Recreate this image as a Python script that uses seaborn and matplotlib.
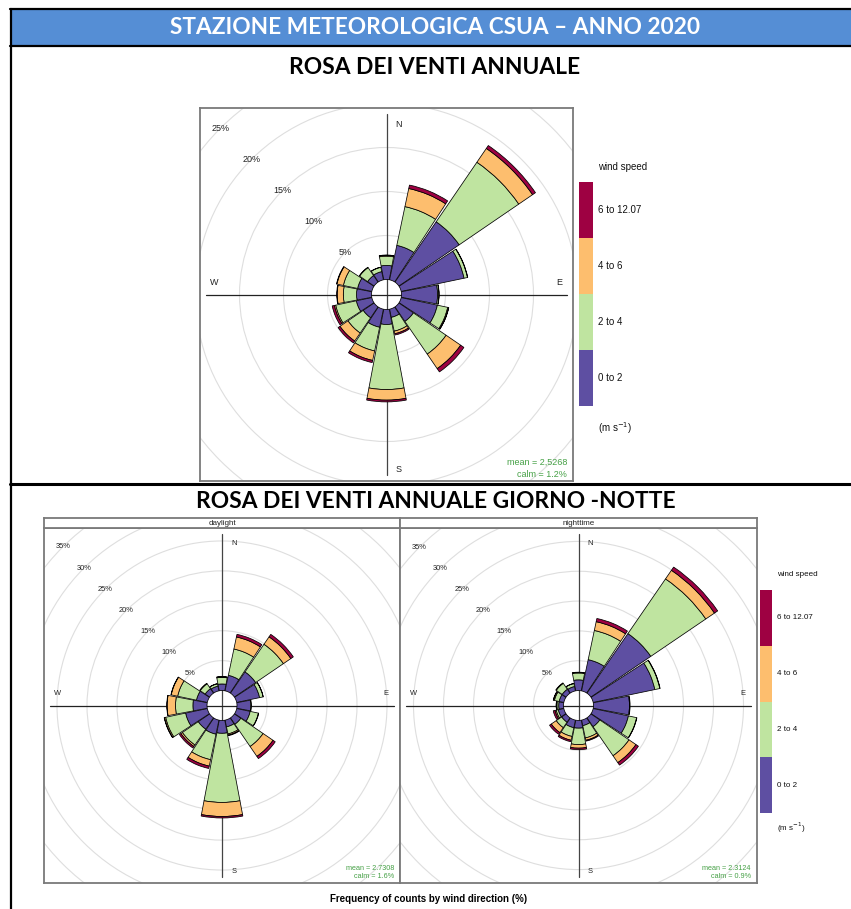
import numpy as np
import matplotlib
matplotlib.use("Agg")
import matplotlib.pyplot as plt
from matplotlib.patches import Wedge, Circle, Rectangle
import seaborn as sns

# wind directions (clockwise from N) and speed classes
directions = ["N", "NNE", "NE", "ENE", "E", "ESE", "SE", "SSE",
              "S", "SSW", "SW", "WSW", "W", "WNW", "NW", "NNW"]
dir_angles = np.arange(16) * 22.5
speed_labels = ["0 to 2", "2 to 4", "4 to 6", "6 to 12.07"]

# annual rose (% of counts per class)
ann_0_2 = [1.6, 4.0, 8.3, 7.3, 4.1, 4.2, 2.0, 0.95, 1.7, 2.1, 1.5, 1.8, 1.7, 1.65, 0.9, 0.95]
ann_2_4 = [1.05, 4.5, 8.2, 0.4, 0.15, 1.2, 4.5, 1.6, 7.4, 2.75, 2.1, 2.4, 1.5, 1.65, 1.1, 0.5]
ann_4_6 = [0.1, 2.1, 1.9, 0.03, 0.02, 0.1, 2.0, 0.3, 1.2, 1.1, 1.1, 0.15, 0.7, 0.75, 0.05, 0.02]
ann_6_12 = [0.03, 0.4, 0.4, 0.0, 0.0, 0.03, 0.45, 0.15, 0.2, 0.25, 0.25, 0.25, 0.05, 0.05, 0.0, 0.0]

# daylight
day_0_2 = [1.1, 2.65, 4.3, 3.9, 2.3, 2.3, 1.3, 1.15, 2.15, 2.4, 2.3, 3.7, 2.35, 1.85, 0.9, 0.8]
day_2_4 = [1.1, 4.5, 5.6, 0.6, 0.1, 1.4, 4.5, 1.2, 11.55, 4.35, 3.2, 3.4, 2.9, 3.2, 1.0, 0.4]
day_4_6 = [0.1, 2.05, 1.5, 0.03, 0.0, 0.05, 2.0, 0.2, 2.35, 1.1, 0.3, 0.2, 1.4, 1.1, 0.1, 0.03]
day_6_12 = [0.03, 0.45, 0.5, 0.0, 0.0, 0.0, 0.45, 0.1, 0.25, 0.4, 0.3, 0.05, 0.05, 0.05, 0.0, 0.0]

# nighttime
night_0_2 = [1.8, 5.35, 12.1, 10.5, 6.0, 6.0, 1.8, 0.95, 1.3, 1.3, 0.9, 0.95, 0.8, 0.8, 0.8, 0.75]
night_2_4 = [1.15, 5.0, 11.1, 0.85, 0.1, 1.4, 5.9, 2.1, 2.75, 1.5, 1.1, 0.35, 0.3, 0.8, 1.2, 0.5]
night_4_6 = [0.1, 1.5, 1.75, 0.05, 0.0, 0.05, 1.4, 0.4, 0.6, 0.65, 1.0, 0.2, 0.1, 0.15, 0.1, 0.03]
night_6_12 = [0.03, 0.55, 0.65, 0.0, 0.0, 0.0, 0.5, 0.15, 0.25, 0.25, 0.35, 0.3, 0.03, 0.05, 0.0, 0.0]

sns.set_theme(style="white")
plt.rcParams['font.family'] = ['Liberation Sans', 'DejaVu Sans']
colors = sns.color_palette(["#5e4fa2", "#bfe4a0", "#fdbe6e", "#9e0142"])
green_txt = "#45a045"

W, H = 851, 909
fig = plt.figure(figsize=(W / 100, H / 100), dpi=100)
bg = fig.add_axes([0, 0, 1, 1])
bg.set_xlim(0, W)
bg.set_ylim(H, 0)
bg.axis('off')


def px_axes(x0, y0, x1, y1):
    return fig.add_axes([x0 / W, 1 - y1 / H, (x1 - x0) / W, (y1 - y0) / H])


def rose(ax, bands, ppp, half, off_px, rings, mean_txt, calm_txt, fs, lab_fs):
    off = off_px / ppp
    lim = half / ppp
    ax.set_xlim(-lim, lim)
    ax.set_ylim(-lim, lim)
    ax.set_xticks([])
    ax.set_yticks([])
    for s in ax.spines.values():
        s.set_color("#7a7a7a")
        s.set_linewidth(1.3)
    for p in rings:
        ax.add_patch(Circle((0, 0), off + p, fill=False, ec="#dedede", lw=0.8, zorder=1))
    m = 6 / ppp
    ax.plot([0, 0], [-lim + m, lim - m], color="#444444", lw=0.9, zorder=2)
    ax.plot([-lim + m, lim - m], [0, 0], color="#222222", lw=0.9, zorder=2)
    for p in rings:
        r = off + p
        if r * 0.707 < lim - 8 / ppp:
            ax.text(-r * 0.707, r * 0.707, f"{p}%", fontsize=fs, ha="center", va="center",
                    color="#222222", zorder=3)
    hw = 22.5 / 2 - 0.6
    for i, d in enumerate(dir_angles):
        base = off
        tc = 90 - d
        for k, band in enumerate(bands):
            v = band[i]
            if v <= 0:
                continue
            ax.add_patch(Wedge((0, 0), base + v, tc - hw, tc + hw, width=v,
                               fc=colors[k], ec="black", lw=0.55, zorder=4))
            base += v
    s_off = 12 / ppp
    ax.text(s_off, (half - 16) / ppp, "N", fontsize=fs, ha="center", va="center", color="#222222")
    ax.text(s_off, -(half - 12) / ppp, "S", fontsize=fs, ha="center", va="center", color="#222222")
    ax.text(-(half - 14) / ppp, s_off, "W", fontsize=fs, ha="center", va="center", color="#222222")
    ax.text((half - 14) / ppp, s_off, "E", fontsize=fs, ha="center", va="center", color="#222222")
    ax.text(lim - 6 / ppp, -(half - 20 * lab_fs / 7.0) / ppp, mean_txt, fontsize=lab_fs,
            ha="right", va="center", color=green_txt)
    ax.text(lim - 6 / ppp, -(half - 7) / ppp, calm_txt, fontsize=lab_fs,
            ha="right", va="center", color=green_txt)


def legend(x0, y0, y1, xt, fs, ywind, yunit):
    seg = (y1 - y0) / 4
    for k in range(4):
        top = y1 - (k + 1) * seg
        bg.add_patch(Rectangle((x0, top), 14 if fs > 6.5 else 12, seg, fc=colors[k], ec="none"))
        bg.text(xt, top + seg / 2, speed_labels[k], fontsize=fs, ha="left", va="center", color="#111111")
    bg.text(xt, ywind, "wind speed", fontsize=fs, ha="left", va="center", color="#111111")
    bg.text(xt, yunit, "(m s$^{-1}$)", fontsize=fs, ha="left", va="center", color="#111111")


# page frame and headers
bg.add_patch(Rectangle((12, 10), W - 12, 35, fc="#558ed5", ec="none"))
bg.plot([10, W], [9, 9], color="black", lw=1.6)
bg.plot([11, 11], [9, H], color="black", lw=1.6)
bg.plot([10, W], [46, 46], color="black", lw=1.6)
bg.plot([10, W], [484, 484], color="black", lw=2.2)
title_font = ['Lato', 'DejaVu Sans']
bg.text(435, 28, "STAZIONE METEOROLOGICA CSUA – ANNO 2020", fontsize=16.3, fontweight="bold",
        color="white", ha="center", va="center", family=title_font)
bg.text(435, 68, "ROSA DEI VENTI ANNUALE", fontsize=16.4, fontweight="bold",
        color="black", ha="center", va="center", family=title_font)
bg.text(436, 502, "ROSA DEI VENTI ANNUALE GIORNO -NOTTE", fontsize=16.4, fontweight="bold",
        color="black", ha="center", va="center", family=title_font)

# annual rose
ax_top = px_axes(200, 108, 573, 481)
rose(ax_top, [ann_0_2, ann_2_4, ann_4_6, ann_6_12], 8.8, 186.5, 15,
     [5, 10, 15, 20, 25, 30], "mean = 2,5268", "calm = 1.2%", 6.5, 6.5)
legend(579, 182, 406, 598, 7, 167, 428)

# day / night roses
for (x0, x1, name, bands, mtxt, ctxt) in [
        (44, 400, "daylight", [day_0_2, day_2_4, day_4_6, day_6_12], "mean = 2.7308", "calm = 1.6%"),
        (400, 757, "nighttime", [night_0_2, night_2_4, night_4_6, night_6_12], "mean = 2.3124", "calm = 0.9%")]:
    ax = px_axes(x0, 528, x1, 883)
    rose(ax, bands, 6.0, (x1 - x0) / 2, 15, [5, 10, 15, 20, 25, 30, 35, 40],
         mtxt, ctxt, 5.4, 5.2)
    st = px_axes(x0, 518, x1, 528)
    st.set_xticks([])
    st.set_yticks([])
    for s in st.spines.values():
        s.set_color("#7a7a7a")
        s.set_linewidth(1.3)
    st.text(0.5, 0.45, name, transform=st.transAxes, fontsize=5.8, ha="center", va="center",
            color="#222222")

legend(760, 590, 813, 777, 5.8, 575, 828)
bg.text(429, 899, "Frequency of counts by wind direction (%)", fontsize=7, fontweight="bold",
        ha="center", va="center", color="black")

fig.savefig("out.png", dpi=100)
